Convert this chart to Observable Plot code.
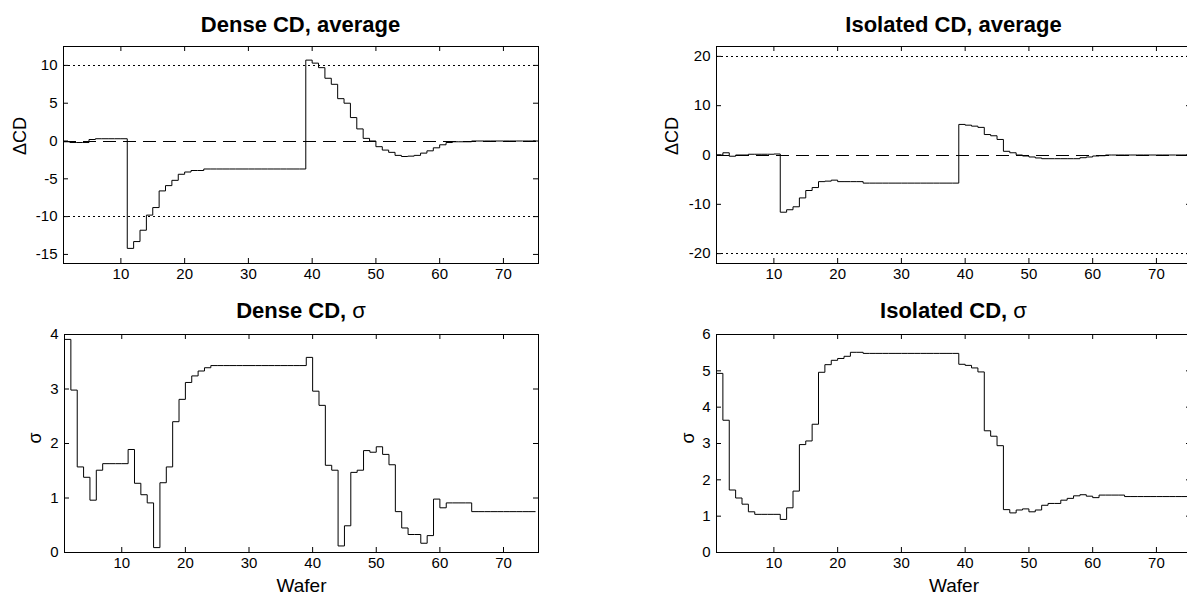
<!DOCTYPE html>
<html><head><meta charset="utf-8">
<script src="https://cdn.jsdelivr.net/npm/d3@7"></script>
<script src="https://cdn.jsdelivr.net/npm/@observablehq/plot@0.6"></script>
<style>
body{margin:0;background:#fff;}
#root{position:relative;width:1187px;height:599px;overflow:hidden;background:#fff;font-family:"Liberation Sans",Arial,sans-serif;color:#000;}
.panel{position:absolute;}
.title{position:absolute;width:400px;font-weight:bold;font-size:22px;line-height:1;text-align:center;white-space:nowrap;}
.title .sym{font-weight:normal;}
</style></head><body><div id="root"></div>
<script>
// Wafer index (x categories)
const wafer = [1,2,3,4,5,6,7,8,9,10,11,12,13,14,15,16,17,18,19,20,21,22,23,24,25,26,27,28,29,30,31,32,33,34,35,36,37,38,39,40,41,42,43,44,45,46,47,48,49,50,51,52,53,54,55,56,57,58,59,60,61,62,63,64,65,66,67,68,69,70,71,72,73,74,75];

// Dense CD, average (ΔCD)
const denseAvg = [-0.1,-0.2,-0.2,-0.2,0.2,0.3,0.3,0.3,0.3,0.3,
  -14.2,-13.3,-11.8,-9.8,-8.8,-6.6,-5.9,-5.2,-4.4,-4.1,-3.9,-3.9,
  -3.7,-3.7,-3.7,-3.7,-3.7,-3.7,-3.7,-3.7,-3.7,-3.7,-3.7,-3.7,-3.7,-3.7,-3.7,-3.7,
  10.7,10.3,9.7,8.3,7.5,5.6,5.0,3.1,1.6,0.35,0.0,-0.75,-1.2,-1.5,-1.9,-2.05,-2.0,-1.9,-1.6,-1.3,-0.9,-0.5,-0.2,-0.1,-0.1,-0.1,
  0,0,0,0,0,0,0,0,0,0,0];

// Isolated CD, average (ΔCD)
const isoAvg = [0,0.45,-0.25,0,0,0.15,0.15,0.15,0.15,0.2,
  -11.6,-11.1,-10.5,-8.7,-7.2,-6.6,-5.4,-5.3,-5.1,-5.4,-5.4,-5.4,-5.4,
  -5.7,-5.7,-5.7,-5.7,-5.7,-5.7,-5.7,-5.7,-5.7,-5.7,-5.7,-5.7,-5.7,-5.7,-5.7,
  6.2,6.05,5.85,5.6,4.15,3.9,3.15,0.75,0.45,0.0,-0.2,-0.4,-0.6,-0.75,-0.75,-0.75,-0.75,-0.75,-0.75,
  -0.55,-0.4,-0.2,-0.15,
  0,0,0,0,0,0,0,0,0,0,0,0,0,0];

// Dense CD, sigma
const denseSigma = [3.91,2.98,1.57,1.38,0.96,1.51,1.63,1.63,1.63,1.63,
  1.89,1.27,1.06,0.91,0.09,1.28,1.57,2.40,2.81,3.12,3.24,3.33,3.39,
  3.43,3.43,3.43,3.43,3.43,3.43,3.43,3.43,3.43,3.43,3.43,3.43,3.43,3.43,3.43,
  3.58,2.96,2.70,1.60,1.51,0.12,0.49,1.47,1.51,1.87,1.84,1.94,1.80,1.61,0.75,0.45,0.33,0.33,0.17,0.31,0.98,0.82,
  0.91,0.91,0.91,0.91,
  0.75,0.75,0.75,0.75,0.75,0.75,0.75,0.75,0.75,0.75,0.75];

// Isolated CD, sigma
const isoSigma = [4.93,3.64,1.72,1.50,1.33,1.12,1.05,1.05,1.05,1.05,
  0.91,1.23,1.69,2.97,3.07,3.53,4.96,5.17,5.29,5.34,5.40,5.51,5.51,
  5.48,5.48,5.48,5.48,5.48,5.48,5.48,5.48,5.48,5.48,5.48,5.48,5.48,5.48,5.48,
  5.18,5.15,5.08,4.97,3.35,3.20,2.94,1.18,1.09,1.17,1.20,1.12,1.17,1.30,1.35,1.35,1.44,1.49,1.56,1.59,1.55,1.51,
  1.58,1.58,1.58,1.58,
  1.54,1.54,1.54,1.54,1.54,1.54,1.54,1.54,1.54,1.54,1.54];

const xTicks = [10,20,30,40,50,60,70];
const denseAvgTicks = [-15,-10,-5,0,5,10];
const isoAvgTicks = [-20,-10,0,10,20];
const denseSigmaTicks = [0,1,2,3,4];
const isoSigmaTicks = [0,1,2,3,4,5,6];
const denseLimits = [-10,10];
const isoLimits = [-20,20];
const zeroLine = [0];

const titles = [
  {text: "Dense CD, average", sym: "", cx: 300.5, top: 14},
  {text: "Isolated CD, average", sym: "", cx: 953.5, top: 14},
  {text: "Dense CD, ", sym: "σ", cx: 301, top: 300},
  {text: "Isolated CD, ", sym: "σ", cx: 953.5, top: 300}
];

const root = document.getElementById("root");

function panel(o) {
  const fw = o.width - o.mL - o.mR, fh = o.height - o.mT - o.mB;
  const table = wafer.map((w, i) => ({w, v: o.values[i]}));
  const marks = [];
  if (o.limits) {
    marks.push(Plot.ruleY(o.limits, {y: d => d, stroke: "#000", strokeWidth: 1, strokeDasharray: "2,3", shapeRendering: "crispEdges"}));
    marks.push(Plot.ruleY(zeroLine, {y: d => d, stroke: "#000", strokeWidth: 1, strokeDasharray: "13,7", shapeRendering: "crispEdges"}));
  }
  marks.push(Plot.line(table, {x: "w", y: "v", curve: "step-after", stroke: "#000", strokeWidth: 1}));
  marks.push(Plot.tickX(xTicks, {x: d => d, insetTop: fh - 5, stroke: "#000"}));
  marks.push(Plot.tickX(xTicks, {x: d => d, insetBottom: fh - 5, stroke: "#000"}));
  marks.push(Plot.tickY(o.yTicks, {y: d => d, insetRight: fw - 5, stroke: "#000"}));
  marks.push(Plot.tickY(o.yTicks, {y: d => d, insetLeft: fw - 5, stroke: "#000"}));
  marks.push(Plot.frame({stroke: "#000", strokeWidth: 1}));
  marks.push(Plot.axisX(xTicks, {anchor: "bottom", tickSize: 0, tickPadding: 5, label: null, tickFormat: d => String(d), fontSize: 15}));
  marks.push(Plot.axisY(o.yTicks, {anchor: "left", tickSize: 0, tickPadding: 6, label: null, tickFormat: d => String(d), fontSize: 15}));
  marks.push(Plot.text([o.ylabel], {text: d => d, frameAnchor: "left", dx: o.ylabelDx, rotate: -90, fontSize: 18, fill: "#000"}));
  if (o.xlabel) marks.push(Plot.text([o.xlabel], {text: d => d, frameAnchor: "bottom", dy: 39, fontSize: 19, fill: "#000"}));
  const svg = Plot.plot({
    width: o.width, height: o.height,
    marginLeft: o.mL, marginRight: o.mR, marginTop: o.mT, marginBottom: o.mB,
    x: {domain: [1, 75.5]},
    y: {domain: o.yDomain},
    style: {fontFamily: "'Liberation Sans', Arial, sans-serif", fontSize: "15px", color: "#000", background: "transparent", overflow: "visible"},
    marks
  });
  svg.classList.add("panel");
  svg.style.left = o.left + "px";
  svg.style.top = o.top + "px";
  svg.style.position = "absolute";
  root.appendChild(svg);
}

panel({values: denseAvg, yDomain: [-16.2, 12.5], yTicks: denseAvgTicks, limits: denseLimits, ylabel: "ΔCD", ylabelDx: -43,
  left: 0, top: 36, width: 560, height: 257, mL: 63, mR: 22, mT: 10, mB: 30});
panel({values: isoAvg, yDomain: [-22, 22], yTicks: isoAvgTicks, limits: isoLimits, ylabel: "ΔCD", ylabelDx: -44,
  left: 650, top: 36, width: 560, height: 257, mL: 66, mR: 19, mT: 10, mB: 30});
panel({values: denseSigma, yDomain: [0, 4], yTicks: denseSigmaTicks, ylabel: "σ", ylabelDx: -29, xlabel: "Wafer",
  left: 0, top: 324, width: 560, height: 275, mL: 64, mR: 22, mT: 10, mB: 47});
panel({values: isoSigma, yDomain: [0, 6], yTicks: isoSigmaTicks, ylabel: "σ", ylabelDx: -28, xlabel: "Wafer",
  left: 650, top: 324, width: 560, height: 275, mL: 66, mR: 19, mT: 10, mB: 47});

for (const t of titles) {
  const d = document.createElement("div");
  d.className = "title";
  d.style.left = (t.cx - 200) + "px";
  d.style.top = t.top + "px";
  d.textContent = t.text;
  if (t.sym) {
    const s = document.createElement("span");
    s.className = "sym";
    s.textContent = t.sym;
    d.appendChild(s);
  }
  root.appendChild(d);
}
</script>
</body></html>
